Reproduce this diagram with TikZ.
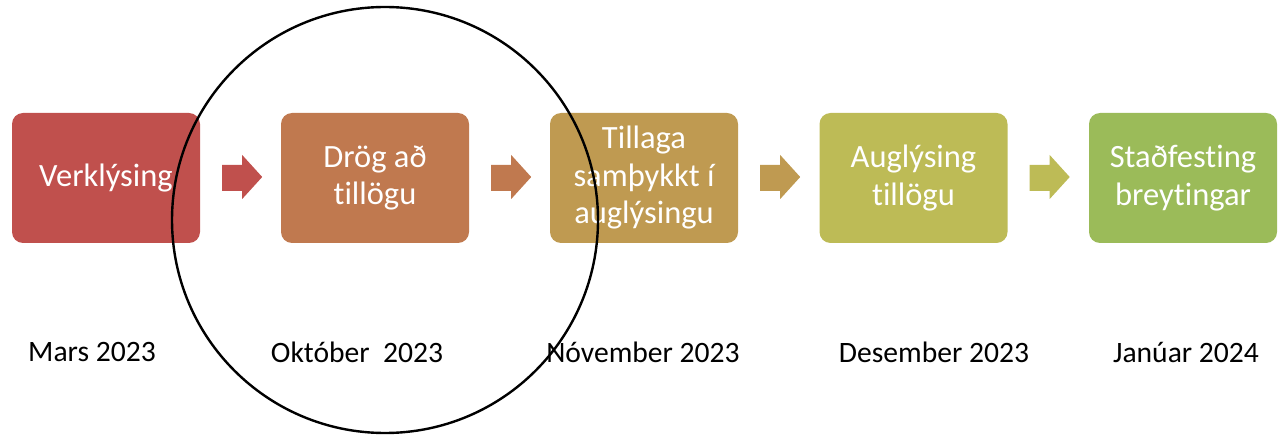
\documentclass[tikz,border=0pt]{standalone}
\usepackage{fontspec}
\setmainfont{Carlito}[RawFeature=-liga]
\begin{document}
\begin{tikzpicture}[x=1pt,y=-1pt,
  stepbox/.style={rounded corners=11pt,minimum width=188pt,minimum height=130pt,inner sep=0pt,text=white,align=center,font=\fontsize{32.5}{37.5}\selectfont},
  datelabel/.style={inner sep=0pt,font=\fontsize{29.6}{34}\selectfont,text=black}]
\definecolor{c1}{HTML}{C0504D}
\definecolor{c2}{HTML}{C0794F}
\definecolor{c3}{HTML}{BF9A51}
\definecolor{c4}{HTML}{BDBB56}
\definecolor{c5}{HTML}{9BBB59}
\useasboundingbox (0,0) rectangle (1281,435);
\node[stepbox,fill=c1] (b1) at (106,178) {Verklýsing};
\node[stepbox,fill=c2] (b2) at (375,178) {Drög að\\tillögu};
\node[stepbox,fill=c3] (b3) at (644,178) {Tillaga\\samþykkt í\\auglýsingu};
\node[stepbox,fill=c4] (b4) at (913.5,178) {Auglýsing\\tillögu};
\node[stepbox,fill=c5] (b5) at (1183,178) {Staðfesting\\breytingar};
\foreach \a/\c in {b1/c1,b2/c2,b3/c3,b4/c4}{
  \fill[\c] ([xshift=22pt,yshift=13pt]\a.east) -- ++(20,0) -- ++(0,-10) -- ++(20,22) -- ++(-20,22) -- ++(0,-8) -- ++(-20,0) -- cycle;
}
\node[datelabel] (d1) at (92,352) {Mars 2023};
\node[datelabel] (d2) at (357,352) {Október\ \ 2023};
\node[datelabel] (d3) at (643,352) {Nóvember 2023};
\node[datelabel] (d4) at (934,352) {Desember 2023};
\node[datelabel] (d5) at (1186,352) {Janúar 2024};
\draw[line width=2.4pt] (385,220) circle[radius=213];
\end{tikzpicture}
\end{document}
